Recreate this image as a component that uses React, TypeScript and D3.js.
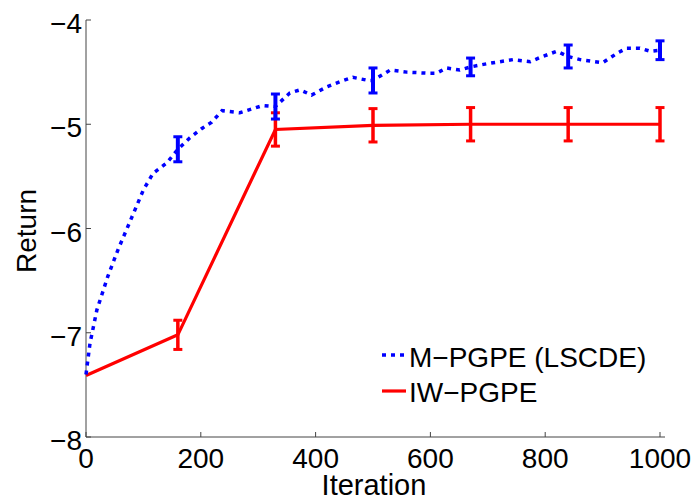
import React from "react";
import * as d3 from "d3";

const blueX = [0, 7, 19, 38, 56, 80, 100, 117, 141, 160, 181, 202, 219, 237, 268, 291, 308, 330, 355, 373, 393, 420, 443, 465, 492, 500, 530, 559, 594, 611, 628, 651, 670, 698, 721, 744, 774, 791, 820, 840, 861, 900, 925, 942, 965, 983, 1000];
const blueY = [-7.4, -7.1, -6.78, -6.46, -6.2, -5.89, -5.63, -5.47, -5.37, -5.24, -5.13, -5.04, -4.98, -4.87, -4.89, -4.85, -4.82, -4.83, -4.7, -4.67, -4.72, -4.64, -4.59, -4.55, -4.58, -4.58, -4.48, -4.5, -4.51, -4.51, -4.46, -4.48, -4.45, -4.42, -4.4, -4.38, -4.4, -4.36, -4.3, -4.35, -4.38, -4.41, -4.32, -4.27, -4.27, -4.3, -4.29];
const blueErrX = [160, 330, 500, 670, 840, 1000];
const blueErrY = [-5.24, -4.83, -4.58, -4.45, -4.35, -4.29];
const blueErr = [0.12, 0.12, 0.12, 0.085, 0.11, 0.09];

const redX = [0, 160, 330, 500, 670, 840, 1000];
const redY = [-7.41, -7.02, -5.05, -5.01, -5.0, -5.0, -5.0];
const redErr = [0, 0.14, 0.16, 0.16, 0.16, 0.16, 0.16];

const xTicks = [0, 200, 400, 600, 800, 1000];
const yTicks = [-8, -7, -6, -5, -4];
const legendLabels = ["M\u2212PGPE (LSCDE)", "IW\u2212PGPE"];

const fmt = (v: number) => String(v).replace("-", "\u2212");

export default function App() {
  const x = d3.scaleLinear().domain([0, 1000]).range([86, 660]);
  const y = d3.scaleLinear().domain([-8, -4]).range([437, 20]);
  const line = d3.line<[number, number]>().x((d) => x(d[0])).y((d) => y(d[1]));
  const bluePts = blueX.map((v, i) => [v, blueY[i]] as [number, number]);
  const redPts = redX.map((v, i) => [v, redY[i]] as [number, number]);
  const font = "Liberation Sans, Arial, Helvetica, sans-serif";
  const axisColor = "#444";
  const cap = 4.5;

  const errBars = (xs: number[], ys: number[], es: number[], color: string, w: number) =>
    xs.map((xv, i) => {
      if (es[i] <= 0) return null;
      const cx = x(xv);
      const y1 = y(ys[i] + es[i]);
      const y2 = y(ys[i] - es[i]);
      return (
        <g key={color + i} stroke={color} fill="none">
          <line x1={cx} x2={cx} y1={y1} y2={y2} strokeWidth={w} />
          <line x1={cx - cap} x2={cx + cap} y1={y1} y2={y1} strokeWidth={3} />
          <line x1={cx - cap} x2={cx + cap} y1={y2} y2={y2} strokeWidth={3} />
        </g>
      );
    });

  return (
    <svg width={696} height={501} style={{ position: "absolute", left: 0, top: 0, background: "#fff" }} fontFamily={font}>
      <rect x={0} y={0} width={696} height={501} fill="#fff" />
      {/* axes */}
      <line x1={86} x2={86} y1={y(-4)} y2={y(-8)} stroke={axisColor} strokeWidth={1} />
      <line x1={86} x2={665} y1={y(-8)} y2={y(-8)} stroke={axisColor} strokeWidth={1} />
      {yTicks.map((t) => (
        <g key={"yt" + t}>
          <line x1={86} x2={91} y1={y(t)} y2={y(t)} stroke={axisColor} />
          <text x={82} y={y(t) + 13} fontSize={28} textAnchor="end" fill="#000">{fmt(t)}</text>
        </g>
      ))}
      {xTicks.map((t) => (
        <g key={"xt" + t}>
          <line x1={x(t)} x2={x(t)} y1={y(-8)} y2={y(-8) - 5} stroke={axisColor} />
          <text x={x(t)} y={468} fontSize={28} textAnchor="middle" fill="#000">{fmt(t)}</text>
        </g>
      ))}
      <text x={374} y={495} fontSize={29} textAnchor="middle" fill="#000">Iteration</text>
      <text transform={`translate(36,231) rotate(-90)`} fontSize={28} textAnchor="middle" fill="#000">Return</text>

      {/* series */}
      <path d={line(redPts) || ""} fill="none" stroke="#ff0000" strokeWidth={3.2} />
      {errBars(redX, redY, redErr, "#ff0000", 3.5)}
      <path d={line(bluePts) || ""} fill="none" stroke="#0000ff" strokeWidth={3.5} strokeDasharray="4 5" />
      {errBars(blueErrX, blueErrY, blueErr, "#0000ff", 4)}

      {/* legend */}
      <line x1={382} x2={406} y1={355} y2={355} stroke="#0000ff" strokeWidth={3.5} strokeDasharray="4 5" />
      <text x={409} y={367} fontSize={28} fill="#000">{legendLabels[0]}</text>
      <line x1={382} x2={406} y1={391} y2={391} stroke="#ff0000" strokeWidth={3.2} />
      <text x={409} y={402} fontSize={28} fill="#000">{legendLabels[1]}</text>
    </svg>
  );
}
